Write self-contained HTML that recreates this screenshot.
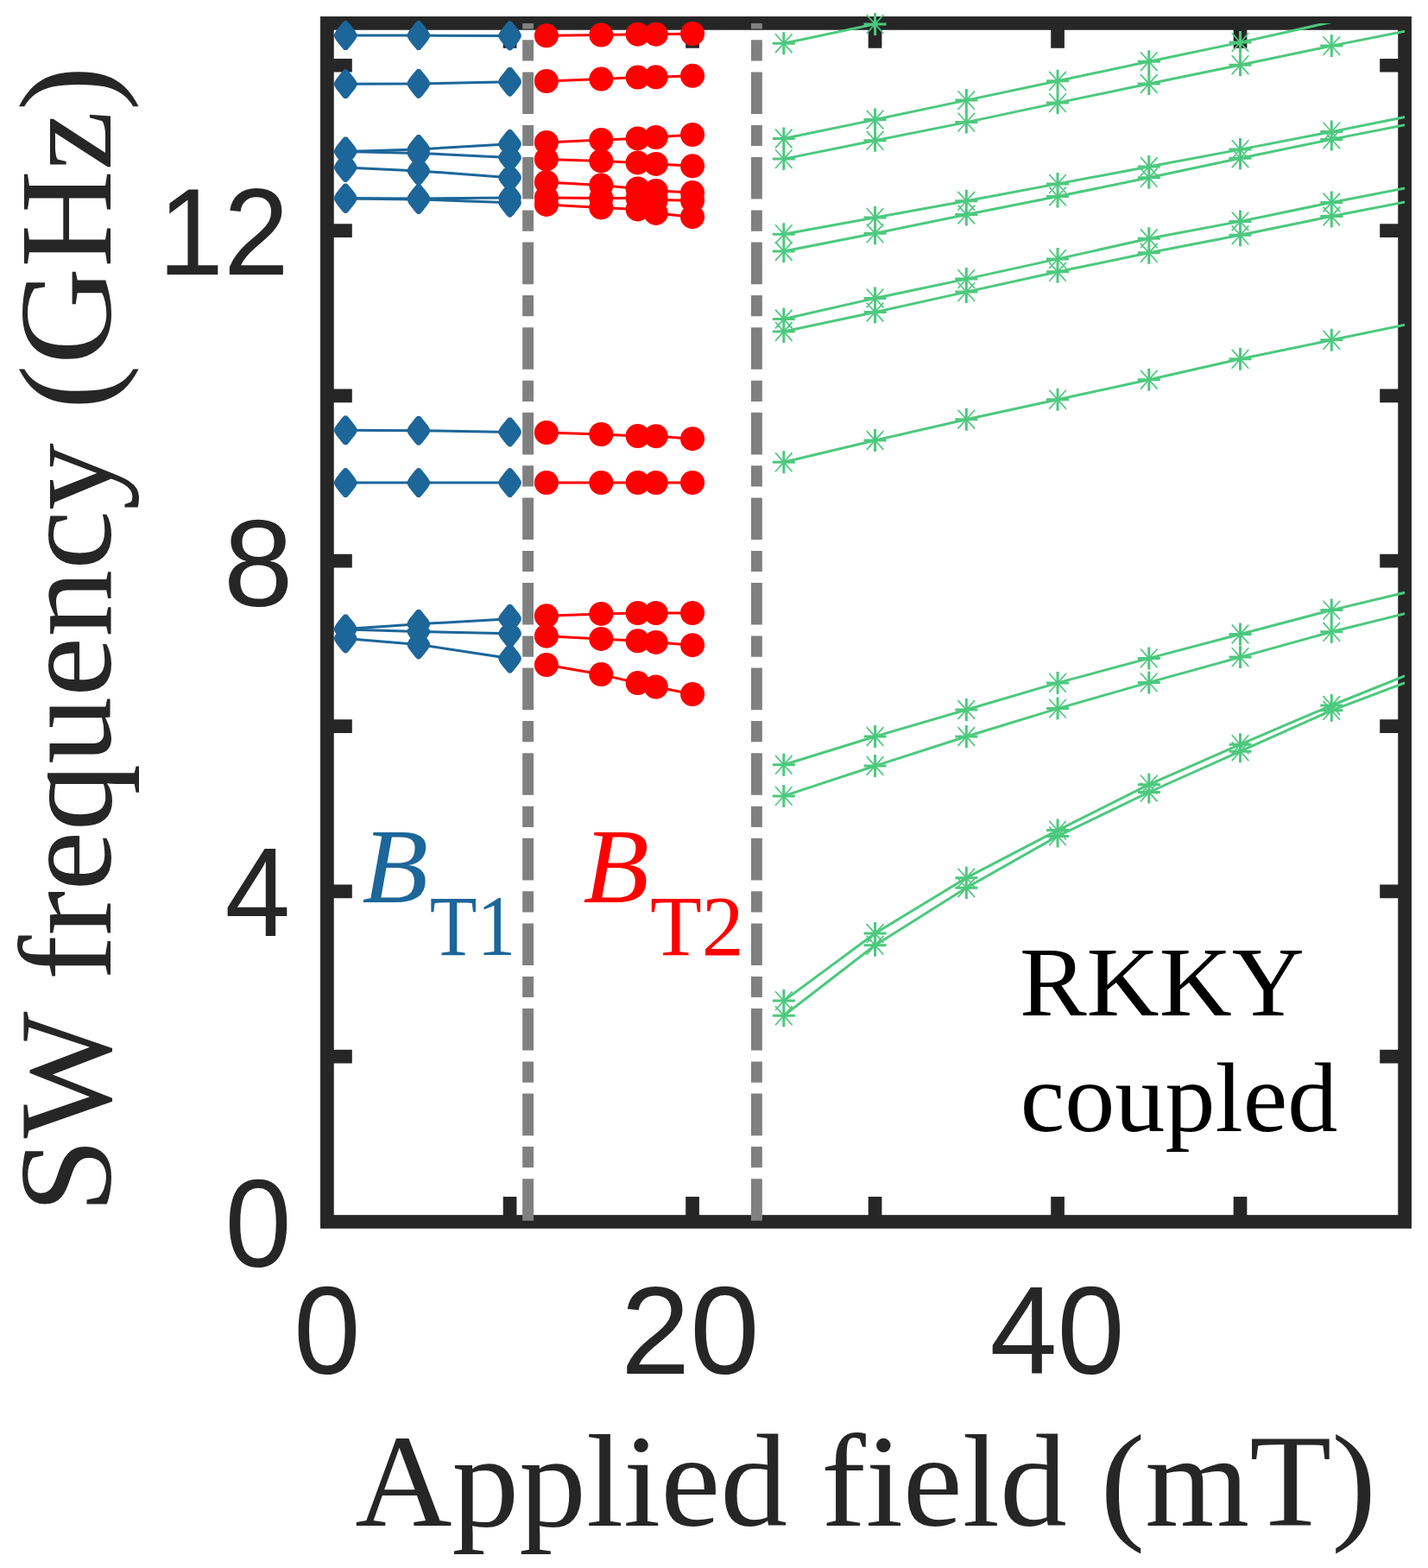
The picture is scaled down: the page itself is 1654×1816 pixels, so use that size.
<!DOCTYPE html>
<html><head><meta charset="utf-8"><title>SW frequency vs applied field</title>
<style>html,body{margin:0;padding:0;background:#fff;}svg{display:block;}</style>
</head><body>
<svg width="1654" height="1816" viewBox="0 0 1654 1816">
<defs><clipPath id="c"><rect x="379.08" y="26.9" width="1248.02" height="1388.1"/></clipPath></defs>
<rect width="1654" height="1816" fill="#fff"/>
<rect x="378.9" y="26.9" width="1248.2" height="1388.1" fill="none" stroke="#262626" stroke-width="15.7"/>
<path d="M378.9 1223.68H407.8M1627.1 1223.68H1598.2M378.9 1032.36H407.8M1627.1 1032.36H1598.2M378.9 841.04H407.8M1627.1 841.04H1598.2M378.9 649.72H407.8M1627.1 649.72H1598.2M378.9 458.4H407.8M1627.1 458.4H1598.2M378.9 267.08H407.8M1627.1 267.08H1598.2M378.9 75.76H407.8M1627.1 75.76H1598.2M590.57 1415V1386.1M590.57 26.9V55.8M802.06 1415V1386.1M802.06 26.9V55.8M1013.55 1415V1386.1M1013.55 26.9V55.8M1225.04 1415V1386.1M1225.04 26.9V55.8M1436.53 1415V1386.1M1436.53 26.9V55.8" stroke="#262626" stroke-width="15.7" fill="none"/>
<line x1="611.6" y1="1413.8" x2="611.6" y2="26.9" stroke="#808080" stroke-width="12.9" stroke-dasharray="48.6 12.9 24.2 12.9"/>
<line x1="876.4" y1="1413.8" x2="876.4" y2="26.9" stroke="#808080" stroke-width="12.9" stroke-dasharray="48.6 12.9 24.2 12.9"/>
<g clip-path="url(#c)" fill="none" stroke-linejoin="round">
<polyline points="400.23,41.1 484.82,41.1 590.57,41.4" stroke="#1c6699" stroke-width="3"/>
<polyline points="400.23,97.3 484.82,96.9 590.57,94.7" stroke="#1c6699" stroke-width="3"/>
<polyline points="400.23,175.4 484.82,172.9 590.57,166.8" stroke="#1c6699" stroke-width="3"/>
<polyline points="400.23,175.4 484.82,177.4 590.57,182.5" stroke="#1c6699" stroke-width="3"/>
<polyline points="400.23,193.9 484.82,197.9 590.57,205.7" stroke="#1c6699" stroke-width="3"/>
<polyline points="400.23,229.4 484.82,229.9 590.57,228.9" stroke="#1c6699" stroke-width="3"/>
<polyline points="400.23,229.9 484.82,230.9 590.57,234.7" stroke="#1c6699" stroke-width="3"/>
<polyline points="400.23,498.3 484.82,498.7 590.57,500.4" stroke="#1c6699" stroke-width="3"/>
<polyline points="400.23,559.1 484.82,559.1 590.57,559.1" stroke="#1c6699" stroke-width="3"/>
<polyline points="400.23,728.4 484.82,722.7 590.57,716.7" stroke="#1c6699" stroke-width="3"/>
<polyline points="400.23,728.9 484.82,731.4 590.57,733.7" stroke="#1c6699" stroke-width="3"/>
<polyline points="400.23,739.4 484.82,746.4 590.57,762.6" stroke="#1c6699" stroke-width="3"/>
<polyline points="632.87,41.3 696.32,40.6 738.61,39.7 759.76,39.7 802.06,39" stroke="#ff0000" stroke-width="3"/>
<polyline points="632.87,94 696.32,91.6 738.61,89.6 759.76,89.3 802.06,87.8" stroke="#ff0000" stroke-width="3"/>
<polyline points="632.87,164.9 696.32,161.9 738.61,160.4 759.76,159 802.06,156" stroke="#ff0000" stroke-width="3"/>
<polyline points="632.87,184.4 696.32,186.4 738.61,188.4 759.76,189.9 802.06,192.3" stroke="#ff0000" stroke-width="3"/>
<polyline points="632.87,210.9 696.32,214.4 738.61,218.4 759.76,220.9 802.06,223.1" stroke="#ff0000" stroke-width="3"/>
<polyline points="632.87,228.9 696.32,229.4 738.61,229.4 759.76,231.4 802.06,232.2" stroke="#ff0000" stroke-width="3"/>
<polyline points="632.87,236.9 696.32,240.4 738.61,242.4 759.76,246.9 802.06,251.2" stroke="#ff0000" stroke-width="3"/>
<polyline points="632.87,501 696.32,503 738.61,505 759.76,505.2 802.06,508.2" stroke="#ff0000" stroke-width="3"/>
<polyline points="632.87,559 696.32,559 738.61,559 759.76,559 802.06,559" stroke="#ff0000" stroke-width="3"/>
<polyline points="632.87,713.3 696.32,710.9 738.61,710 759.76,710 802.06,710" stroke="#ff0000" stroke-width="3"/>
<polyline points="632.87,736.7 696.32,739.9 738.61,742.3 759.76,743.9 802.06,747.2" stroke="#ff0000" stroke-width="3"/>
<polyline points="632.87,770.1 696.32,781.1 738.61,791.1 759.76,795.5 802.06,804" stroke="#ff0000" stroke-width="3"/>
<polyline points="907.81,1159.1 1013.55,1081 1119.3,1016.7 1225.04,961.6 1330.79,908.7 1436.53,862.2 1542.28,817 1648.02,774.5" stroke="#4cc97e" stroke-width="3"/>
<polyline points="907.81,1176.3 1013.55,1094.8 1119.3,1028.2 1225.04,968.4 1330.79,917.5 1436.53,870.2 1542.28,822.8 1648.02,783" stroke="#4cc97e" stroke-width="3"/>
<polyline points="907.81,885.8 1013.55,853 1119.3,822 1225.04,790.9 1330.79,762.4 1436.53,734.5 1542.28,706.6 1648.02,681.4" stroke="#4cc97e" stroke-width="3"/>
<polyline points="907.81,921.9 1013.55,887 1119.3,853 1225.04,820.6 1330.79,790.4 1436.53,761.1 1542.28,731.8 1648.02,705.6" stroke="#4cc97e" stroke-width="3"/>
<polyline points="907.81,535.3 1013.55,510 1119.3,485.7 1225.04,462.7 1330.79,439.7 1436.53,415.8 1542.28,393.8 1648.02,371.9" stroke="#4cc97e" stroke-width="3"/>
<polyline points="907.81,369.5 1013.55,345.4 1119.3,323.1 1225.04,299.9 1330.79,276.3 1436.53,256.4 1542.28,234.5 1648.02,214" stroke="#4cc97e" stroke-width="3"/>
<polyline points="907.81,384 1013.55,361.5 1119.3,338.1 1225.04,314.8 1330.79,292.8 1436.53,272.3 1542.28,250.5 1648.02,229.8" stroke="#4cc97e" stroke-width="3"/>
<polyline points="907.81,271.2 1013.55,251.9 1119.3,232.8 1225.04,212.9 1330.79,193 1436.53,173.1 1542.28,152.6 1648.02,131.4" stroke="#4cc97e" stroke-width="3"/>
<polyline points="907.81,291 1013.55,270.3 1119.3,248.5 1225.04,227.5 1330.79,205.8 1436.53,183.2 1542.28,161.4 1648.02,140.7" stroke="#4cc97e" stroke-width="3"/>
<polyline points="907.81,160.5 1013.55,138.6 1119.3,116.1 1225.04,93.8 1330.79,71.2 1436.53,49.1 1542.28,25.5 1648.02,3" stroke="#4cc97e" stroke-width="3"/>
<polyline points="907.81,184.1 1013.55,162.8 1119.3,141.6 1225.04,119.1 1330.79,97 1436.53,75.2 1542.28,53.1 1648.02,32" stroke="#4cc97e" stroke-width="3"/>
<polyline points="907.81,50.2 1013.55,27.9 1119.3,5 1225.04,-18 1330.79,-40 1436.53,-62 1542.28,-84 1648.02,-106" stroke="#4cc97e" stroke-width="3"/>
</g>
<path d="M400.23 24.1L401.83 24.3L403.03 25.5L404.53 27.1L407.83 31.3L411.13 35.5L413.13 38.9L413.53 41.1L413.13 43.3L411.13 46.7L407.83 50.9L404.53 55.1L403.03 56.7L401.83 57.9L400.23 58.1L398.63 57.9L397.43 56.7L395.93 55.1L392.63 50.9L389.33 46.7L387.33 43.3L386.93 41.1L387.33 38.9L389.33 35.5L392.63 31.3L395.93 27.1L397.43 25.5L398.63 24.3ZM484.82 24.1L486.43 24.3L487.62 25.5L489.12 27.1L492.43 31.3L495.72 35.5L497.72 38.9L498.12 41.1L497.72 43.3L495.72 46.7L492.43 50.9L489.12 55.1L487.62 56.7L486.43 57.9L484.82 58.1L483.22 57.9L482.02 56.7L480.52 55.1L477.22 50.9L473.93 46.7L471.93 43.3L471.52 41.1L471.93 38.9L473.93 35.5L477.22 31.3L480.52 27.1L482.02 25.5L483.22 24.3ZM590.57 24.4L592.17 24.6L593.37 25.8L594.87 27.4L598.17 31.6L601.47 35.8L603.47 39.2L603.87 41.4L603.47 43.6L601.47 47L598.17 51.2L594.87 55.4L593.37 57L592.17 58.2L590.57 58.4L588.97 58.2L587.77 57L586.27 55.4L582.97 51.2L579.67 47L577.67 43.6L577.27 41.4L577.67 39.2L579.67 35.8L582.97 31.6L586.27 27.4L587.77 25.8L588.97 24.6ZM400.23 80.3L401.83 80.5L403.03 81.7L404.53 83.3L407.83 87.5L411.13 91.7L413.13 95.1L413.53 97.3L413.13 99.5L411.13 102.9L407.83 107.1L404.53 111.3L403.03 112.9L401.83 114.1L400.23 114.3L398.63 114.1L397.43 112.9L395.93 111.3L392.63 107.1L389.33 102.9L387.33 99.5L386.93 97.3L387.33 95.1L389.33 91.7L392.63 87.5L395.93 83.3L397.43 81.7L398.63 80.5ZM484.82 79.9L486.43 80.1L487.62 81.3L489.12 82.9L492.43 87.1L495.72 91.3L497.72 94.7L498.12 96.9L497.72 99.1L495.72 102.5L492.43 106.7L489.12 110.9L487.62 112.5L486.43 113.7L484.82 113.9L483.22 113.7L482.02 112.5L480.52 110.9L477.22 106.7L473.93 102.5L471.93 99.1L471.52 96.9L471.93 94.7L473.93 91.3L477.22 87.1L480.52 82.9L482.02 81.3L483.22 80.1ZM590.57 77.7L592.17 77.9L593.37 79.1L594.87 80.7L598.17 84.9L601.47 89.1L603.47 92.5L603.87 94.7L603.47 96.9L601.47 100.3L598.17 104.5L594.87 108.7L593.37 110.3L592.17 111.5L590.57 111.7L588.97 111.5L587.77 110.3L586.27 108.7L582.97 104.5L579.67 100.3L577.67 96.9L577.27 94.7L577.67 92.5L579.67 89.1L582.97 84.9L586.27 80.7L587.77 79.1L588.97 77.9ZM400.23 158.4L401.83 158.6L403.03 159.8L404.53 161.4L407.83 165.6L411.13 169.8L413.13 173.2L413.53 175.4L413.13 177.6L411.13 181L407.83 185.2L404.53 189.4L403.03 191L401.83 192.2L400.23 192.4L398.63 192.2L397.43 191L395.93 189.4L392.63 185.2L389.33 181L387.33 177.6L386.93 175.4L387.33 173.2L389.33 169.8L392.63 165.6L395.93 161.4L397.43 159.8L398.63 158.6ZM484.82 155.9L486.43 156.1L487.62 157.3L489.12 158.9L492.43 163.1L495.72 167.3L497.72 170.7L498.12 172.9L497.72 175.1L495.72 178.5L492.43 182.7L489.12 186.9L487.62 188.5L486.43 189.7L484.82 189.9L483.22 189.7L482.02 188.5L480.52 186.9L477.22 182.7L473.93 178.5L471.93 175.1L471.52 172.9L471.93 170.7L473.93 167.3L477.22 163.1L480.52 158.9L482.02 157.3L483.22 156.1ZM590.57 149.8L592.17 150L593.37 151.2L594.87 152.8L598.17 157L601.47 161.2L603.47 164.6L603.87 166.8L603.47 169L601.47 172.4L598.17 176.6L594.87 180.8L593.37 182.4L592.17 183.6L590.57 183.8L588.97 183.6L587.77 182.4L586.27 180.8L582.97 176.6L579.67 172.4L577.67 169L577.27 166.8L577.67 164.6L579.67 161.2L582.97 157L586.27 152.8L587.77 151.2L588.97 150ZM400.23 158.4L401.83 158.6L403.03 159.8L404.53 161.4L407.83 165.6L411.13 169.8L413.13 173.2L413.53 175.4L413.13 177.6L411.13 181L407.83 185.2L404.53 189.4L403.03 191L401.83 192.2L400.23 192.4L398.63 192.2L397.43 191L395.93 189.4L392.63 185.2L389.33 181L387.33 177.6L386.93 175.4L387.33 173.2L389.33 169.8L392.63 165.6L395.93 161.4L397.43 159.8L398.63 158.6ZM484.82 160.4L486.43 160.6L487.62 161.8L489.12 163.4L492.43 167.6L495.72 171.8L497.72 175.2L498.12 177.4L497.72 179.6L495.72 183L492.43 187.2L489.12 191.4L487.62 193L486.43 194.2L484.82 194.4L483.22 194.2L482.02 193L480.52 191.4L477.22 187.2L473.93 183L471.93 179.6L471.52 177.4L471.93 175.2L473.93 171.8L477.22 167.6L480.52 163.4L482.02 161.8L483.22 160.6ZM590.57 165.5L592.17 165.7L593.37 166.9L594.87 168.5L598.17 172.7L601.47 176.9L603.47 180.3L603.87 182.5L603.47 184.7L601.47 188.1L598.17 192.3L594.87 196.5L593.37 198.1L592.17 199.3L590.57 199.5L588.97 199.3L587.77 198.1L586.27 196.5L582.97 192.3L579.67 188.1L577.67 184.7L577.27 182.5L577.67 180.3L579.67 176.9L582.97 172.7L586.27 168.5L587.77 166.9L588.97 165.7ZM400.23 176.9L401.83 177.1L403.03 178.3L404.53 179.9L407.83 184.1L411.13 188.3L413.13 191.7L413.53 193.9L413.13 196.1L411.13 199.5L407.83 203.7L404.53 207.9L403.03 209.5L401.83 210.7L400.23 210.9L398.63 210.7L397.43 209.5L395.93 207.9L392.63 203.7L389.33 199.5L387.33 196.1L386.93 193.9L387.33 191.7L389.33 188.3L392.63 184.1L395.93 179.9L397.43 178.3L398.63 177.1ZM484.82 180.9L486.43 181.1L487.62 182.3L489.12 183.9L492.43 188.1L495.72 192.3L497.72 195.7L498.12 197.9L497.72 200.1L495.72 203.5L492.43 207.7L489.12 211.9L487.62 213.5L486.43 214.7L484.82 214.9L483.22 214.7L482.02 213.5L480.52 211.9L477.22 207.7L473.93 203.5L471.93 200.1L471.52 197.9L471.93 195.7L473.93 192.3L477.22 188.1L480.52 183.9L482.02 182.3L483.22 181.1ZM590.57 188.7L592.17 188.9L593.37 190.1L594.87 191.7L598.17 195.9L601.47 200.1L603.47 203.5L603.87 205.7L603.47 207.9L601.47 211.3L598.17 215.5L594.87 219.7L593.37 221.3L592.17 222.5L590.57 222.7L588.97 222.5L587.77 221.3L586.27 219.7L582.97 215.5L579.67 211.3L577.67 207.9L577.27 205.7L577.67 203.5L579.67 200.1L582.97 195.9L586.27 191.7L587.77 190.1L588.97 188.9ZM400.23 212.4L401.83 212.6L403.03 213.8L404.53 215.4L407.83 219.6L411.13 223.8L413.13 227.2L413.53 229.4L413.13 231.6L411.13 235L407.83 239.2L404.53 243.4L403.03 245L401.83 246.2L400.23 246.4L398.63 246.2L397.43 245L395.93 243.4L392.63 239.2L389.33 235L387.33 231.6L386.93 229.4L387.33 227.2L389.33 223.8L392.63 219.6L395.93 215.4L397.43 213.8L398.63 212.6ZM484.82 212.9L486.43 213.1L487.62 214.3L489.12 215.9L492.43 220.1L495.72 224.3L497.72 227.7L498.12 229.9L497.72 232.1L495.72 235.5L492.43 239.7L489.12 243.9L487.62 245.5L486.43 246.7L484.82 246.9L483.22 246.7L482.02 245.5L480.52 243.9L477.22 239.7L473.93 235.5L471.93 232.1L471.52 229.9L471.93 227.7L473.93 224.3L477.22 220.1L480.52 215.9L482.02 214.3L483.22 213.1ZM590.57 211.9L592.17 212.1L593.37 213.3L594.87 214.9L598.17 219.1L601.47 223.3L603.47 226.7L603.87 228.9L603.47 231.1L601.47 234.5L598.17 238.7L594.87 242.9L593.37 244.5L592.17 245.7L590.57 245.9L588.97 245.7L587.77 244.5L586.27 242.9L582.97 238.7L579.67 234.5L577.67 231.1L577.27 228.9L577.67 226.7L579.67 223.3L582.97 219.1L586.27 214.9L587.77 213.3L588.97 212.1ZM400.23 212.9L401.83 213.1L403.03 214.3L404.53 215.9L407.83 220.1L411.13 224.3L413.13 227.7L413.53 229.9L413.13 232.1L411.13 235.5L407.83 239.7L404.53 243.9L403.03 245.5L401.83 246.7L400.23 246.9L398.63 246.7L397.43 245.5L395.93 243.9L392.63 239.7L389.33 235.5L387.33 232.1L386.93 229.9L387.33 227.7L389.33 224.3L392.63 220.1L395.93 215.9L397.43 214.3L398.63 213.1ZM484.82 213.9L486.43 214.1L487.62 215.3L489.12 216.9L492.43 221.1L495.72 225.3L497.72 228.7L498.12 230.9L497.72 233.1L495.72 236.5L492.43 240.7L489.12 244.9L487.62 246.5L486.43 247.7L484.82 247.9L483.22 247.7L482.02 246.5L480.52 244.9L477.22 240.7L473.93 236.5L471.93 233.1L471.52 230.9L471.93 228.7L473.93 225.3L477.22 221.1L480.52 216.9L482.02 215.3L483.22 214.1ZM590.57 217.7L592.17 217.9L593.37 219.1L594.87 220.7L598.17 224.9L601.47 229.1L603.47 232.5L603.87 234.7L603.47 236.9L601.47 240.3L598.17 244.5L594.87 248.7L593.37 250.3L592.17 251.5L590.57 251.7L588.97 251.5L587.77 250.3L586.27 248.7L582.97 244.5L579.67 240.3L577.67 236.9L577.27 234.7L577.67 232.5L579.67 229.1L582.97 224.9L586.27 220.7L587.77 219.1L588.97 217.9ZM400.23 481.3L401.83 481.5L403.03 482.7L404.53 484.3L407.83 488.5L411.13 492.7L413.13 496.1L413.53 498.3L413.13 500.5L411.13 503.9L407.83 508.1L404.53 512.3L403.03 513.9L401.83 515.1L400.23 515.3L398.63 515.1L397.43 513.9L395.93 512.3L392.63 508.1L389.33 503.9L387.33 500.5L386.93 498.3L387.33 496.1L389.33 492.7L392.63 488.5L395.93 484.3L397.43 482.7L398.63 481.5ZM484.82 481.7L486.43 481.9L487.62 483.1L489.12 484.7L492.43 488.9L495.72 493.1L497.72 496.5L498.12 498.7L497.72 500.9L495.72 504.3L492.43 508.5L489.12 512.7L487.62 514.3L486.43 515.5L484.82 515.7L483.22 515.5L482.02 514.3L480.52 512.7L477.22 508.5L473.93 504.3L471.93 500.9L471.52 498.7L471.93 496.5L473.93 493.1L477.22 488.9L480.52 484.7L482.02 483.1L483.22 481.9ZM590.57 483.4L592.17 483.6L593.37 484.8L594.87 486.4L598.17 490.6L601.47 494.8L603.47 498.2L603.87 500.4L603.47 502.6L601.47 506L598.17 510.2L594.87 514.4L593.37 516L592.17 517.2L590.57 517.4L588.97 517.2L587.77 516L586.27 514.4L582.97 510.2L579.67 506L577.67 502.6L577.27 500.4L577.67 498.2L579.67 494.8L582.97 490.6L586.27 486.4L587.77 484.8L588.97 483.6ZM400.23 542.1L401.83 542.3L403.03 543.5L404.53 545.1L407.83 549.3L411.13 553.5L413.13 556.9L413.53 559.1L413.13 561.3L411.13 564.7L407.83 568.9L404.53 573.1L403.03 574.7L401.83 575.9L400.23 576.1L398.63 575.9L397.43 574.7L395.93 573.1L392.63 568.9L389.33 564.7L387.33 561.3L386.93 559.1L387.33 556.9L389.33 553.5L392.63 549.3L395.93 545.1L397.43 543.5L398.63 542.3ZM484.82 542.1L486.43 542.3L487.62 543.5L489.12 545.1L492.43 549.3L495.72 553.5L497.72 556.9L498.12 559.1L497.72 561.3L495.72 564.7L492.43 568.9L489.12 573.1L487.62 574.7L486.43 575.9L484.82 576.1L483.22 575.9L482.02 574.7L480.52 573.1L477.22 568.9L473.93 564.7L471.93 561.3L471.52 559.1L471.93 556.9L473.93 553.5L477.22 549.3L480.52 545.1L482.02 543.5L483.22 542.3ZM590.57 542.1L592.17 542.3L593.37 543.5L594.87 545.1L598.17 549.3L601.47 553.5L603.47 556.9L603.87 559.1L603.47 561.3L601.47 564.7L598.17 568.9L594.87 573.1L593.37 574.7L592.17 575.9L590.57 576.1L588.97 575.9L587.77 574.7L586.27 573.1L582.97 568.9L579.67 564.7L577.67 561.3L577.27 559.1L577.67 556.9L579.67 553.5L582.97 549.3L586.27 545.1L587.77 543.5L588.97 542.3ZM400.23 711.4L401.83 711.6L403.03 712.8L404.53 714.4L407.83 718.6L411.13 722.8L413.13 726.2L413.53 728.4L413.13 730.6L411.13 734L407.83 738.2L404.53 742.4L403.03 744L401.83 745.2L400.23 745.4L398.63 745.2L397.43 744L395.93 742.4L392.63 738.2L389.33 734L387.33 730.6L386.93 728.4L387.33 726.2L389.33 722.8L392.63 718.6L395.93 714.4L397.43 712.8L398.63 711.6ZM484.82 705.7L486.43 705.9L487.62 707.1L489.12 708.7L492.43 712.9L495.72 717.1L497.72 720.5L498.12 722.7L497.72 724.9L495.72 728.3L492.43 732.5L489.12 736.7L487.62 738.3L486.43 739.5L484.82 739.7L483.22 739.5L482.02 738.3L480.52 736.7L477.22 732.5L473.93 728.3L471.93 724.9L471.52 722.7L471.93 720.5L473.93 717.1L477.22 712.9L480.52 708.7L482.02 707.1L483.22 705.9ZM590.57 699.7L592.17 699.9L593.37 701.1L594.87 702.7L598.17 706.9L601.47 711.1L603.47 714.5L603.87 716.7L603.47 718.9L601.47 722.3L598.17 726.5L594.87 730.7L593.37 732.3L592.17 733.5L590.57 733.7L588.97 733.5L587.77 732.3L586.27 730.7L582.97 726.5L579.67 722.3L577.67 718.9L577.27 716.7L577.67 714.5L579.67 711.1L582.97 706.9L586.27 702.7L587.77 701.1L588.97 699.9ZM400.23 711.9L401.83 712.1L403.03 713.3L404.53 714.9L407.83 719.1L411.13 723.3L413.13 726.7L413.53 728.9L413.13 731.1L411.13 734.5L407.83 738.7L404.53 742.9L403.03 744.5L401.83 745.7L400.23 745.9L398.63 745.7L397.43 744.5L395.93 742.9L392.63 738.7L389.33 734.5L387.33 731.1L386.93 728.9L387.33 726.7L389.33 723.3L392.63 719.1L395.93 714.9L397.43 713.3L398.63 712.1ZM484.82 714.4L486.43 714.6L487.62 715.8L489.12 717.4L492.43 721.6L495.72 725.8L497.72 729.2L498.12 731.4L497.72 733.6L495.72 737L492.43 741.2L489.12 745.4L487.62 747L486.43 748.2L484.82 748.4L483.22 748.2L482.02 747L480.52 745.4L477.22 741.2L473.93 737L471.93 733.6L471.52 731.4L471.93 729.2L473.93 725.8L477.22 721.6L480.52 717.4L482.02 715.8L483.22 714.6ZM590.57 716.7L592.17 716.9L593.37 718.1L594.87 719.7L598.17 723.9L601.47 728.1L603.47 731.5L603.87 733.7L603.47 735.9L601.47 739.3L598.17 743.5L594.87 747.7L593.37 749.3L592.17 750.5L590.57 750.7L588.97 750.5L587.77 749.3L586.27 747.7L582.97 743.5L579.67 739.3L577.67 735.9L577.27 733.7L577.67 731.5L579.67 728.1L582.97 723.9L586.27 719.7L587.77 718.1L588.97 716.9ZM400.23 722.4L401.83 722.6L403.03 723.8L404.53 725.4L407.83 729.6L411.13 733.8L413.13 737.2L413.53 739.4L413.13 741.6L411.13 745L407.83 749.2L404.53 753.4L403.03 755L401.83 756.2L400.23 756.4L398.63 756.2L397.43 755L395.93 753.4L392.63 749.2L389.33 745L387.33 741.6L386.93 739.4L387.33 737.2L389.33 733.8L392.63 729.6L395.93 725.4L397.43 723.8L398.63 722.6ZM484.82 729.4L486.43 729.6L487.62 730.8L489.12 732.4L492.43 736.6L495.72 740.8L497.72 744.2L498.12 746.4L497.72 748.6L495.72 752L492.43 756.2L489.12 760.4L487.62 762L486.43 763.2L484.82 763.4L483.22 763.2L482.02 762L480.52 760.4L477.22 756.2L473.93 752L471.93 748.6L471.52 746.4L471.93 744.2L473.93 740.8L477.22 736.6L480.52 732.4L482.02 730.8L483.22 729.6ZM590.57 745.6L592.17 745.8L593.37 747L594.87 748.6L598.17 752.8L601.47 757L603.47 760.4L603.87 762.6L603.47 764.8L601.47 768.2L598.17 772.4L594.87 776.6L593.37 778.2L592.17 779.4L590.57 779.6L588.97 779.4L587.77 778.2L586.27 776.6L582.97 772.4L579.67 768.2L577.67 764.8L577.27 762.6L577.67 760.4L579.67 757L582.97 752.8L586.27 748.6L587.77 747L588.97 745.8Z" fill="#1c6699"/>
<g fill="#ff0000"><circle cx="632.87" cy="41.3" r="14"/><circle cx="696.32" cy="40.6" r="14"/><circle cx="738.61" cy="39.7" r="14"/><circle cx="759.76" cy="39.7" r="14"/><circle cx="802.06" cy="39" r="14"/><circle cx="632.87" cy="94" r="14"/><circle cx="696.32" cy="91.6" r="14"/><circle cx="738.61" cy="89.6" r="14"/><circle cx="759.76" cy="89.3" r="14"/><circle cx="802.06" cy="87.8" r="14"/><circle cx="632.87" cy="164.9" r="14"/><circle cx="696.32" cy="161.9" r="14"/><circle cx="738.61" cy="160.4" r="14"/><circle cx="759.76" cy="159" r="14"/><circle cx="802.06" cy="156" r="14"/><circle cx="632.87" cy="184.4" r="14"/><circle cx="696.32" cy="186.4" r="14"/><circle cx="738.61" cy="188.4" r="14"/><circle cx="759.76" cy="189.9" r="14"/><circle cx="802.06" cy="192.3" r="14"/><circle cx="632.87" cy="210.9" r="14"/><circle cx="696.32" cy="214.4" r="14"/><circle cx="738.61" cy="218.4" r="14"/><circle cx="759.76" cy="220.9" r="14"/><circle cx="802.06" cy="223.1" r="14"/><circle cx="632.87" cy="228.9" r="14"/><circle cx="696.32" cy="229.4" r="14"/><circle cx="738.61" cy="229.4" r="14"/><circle cx="759.76" cy="231.4" r="14"/><circle cx="802.06" cy="232.2" r="14"/><circle cx="632.87" cy="236.9" r="14"/><circle cx="696.32" cy="240.4" r="14"/><circle cx="738.61" cy="242.4" r="14"/><circle cx="759.76" cy="246.9" r="14"/><circle cx="802.06" cy="251.2" r="14"/><circle cx="632.87" cy="501" r="14"/><circle cx="696.32" cy="503" r="14"/><circle cx="738.61" cy="505" r="14"/><circle cx="759.76" cy="505.2" r="14"/><circle cx="802.06" cy="508.2" r="14"/><circle cx="632.87" cy="559" r="14"/><circle cx="696.32" cy="559" r="14"/><circle cx="738.61" cy="559" r="14"/><circle cx="759.76" cy="559" r="14"/><circle cx="802.06" cy="559" r="14"/><circle cx="632.87" cy="713.3" r="14"/><circle cx="696.32" cy="710.9" r="14"/><circle cx="738.61" cy="710" r="14"/><circle cx="759.76" cy="710" r="14"/><circle cx="802.06" cy="710" r="14"/><circle cx="632.87" cy="736.7" r="14"/><circle cx="696.32" cy="739.9" r="14"/><circle cx="738.61" cy="742.3" r="14"/><circle cx="759.76" cy="743.9" r="14"/><circle cx="802.06" cy="747.2" r="14"/><circle cx="632.87" cy="770.1" r="14"/><circle cx="696.32" cy="781.1" r="14"/><circle cx="738.61" cy="791.1" r="14"/><circle cx="759.76" cy="795.5" r="14"/><circle cx="802.06" cy="804" r="14"/></g>
<path d="M894.81 1159.1H920.81M907.81 1146.1V1172.1M1000.55 1081H1026.55M1013.55 1068V1094M1106.3 1016.7H1132.3M1119.3 1003.7V1029.7M1212.04 961.6H1238.04M1225.04 948.6V974.6M1317.79 908.7H1343.79M1330.79 895.7V921.7M1423.53 862.2H1449.53M1436.53 849.2V875.2M1529.28 817H1555.28M1542.28 804V830M894.81 1176.3H920.81M907.81 1163.3V1189.3M1000.55 1094.8H1026.55M1013.55 1081.8V1107.8M1106.3 1028.2H1132.3M1119.3 1015.2V1041.2M1212.04 968.4H1238.04M1225.04 955.4V981.4M1317.79 917.5H1343.79M1330.79 904.5V930.5M1423.53 870.2H1449.53M1436.53 857.2V883.2M1529.28 822.8H1555.28M1542.28 809.8V835.8M894.81 885.8H920.81M907.81 872.8V898.8M1000.55 853H1026.55M1013.55 840V866M1106.3 822H1132.3M1119.3 809V835M1212.04 790.9H1238.04M1225.04 777.9V803.9M1317.79 762.4H1343.79M1330.79 749.4V775.4M1423.53 734.5H1449.53M1436.53 721.5V747.5M1529.28 706.6H1555.28M1542.28 693.6V719.6M894.81 921.9H920.81M907.81 908.9V934.9M1000.55 887H1026.55M1013.55 874V900M1106.3 853H1132.3M1119.3 840V866M1212.04 820.6H1238.04M1225.04 807.6V833.6M1317.79 790.4H1343.79M1330.79 777.4V803.4M1423.53 761.1H1449.53M1436.53 748.1V774.1M1529.28 731.8H1555.28M1542.28 718.8V744.8M894.81 535.3H920.81M907.81 522.3V548.3M1000.55 510H1026.55M1013.55 497V523M1106.3 485.7H1132.3M1119.3 472.7V498.7M1212.04 462.7H1238.04M1225.04 449.7V475.7M1317.79 439.7H1343.79M1330.79 426.7V452.7M1423.53 415.8H1449.53M1436.53 402.8V428.8M1529.28 393.8H1555.28M1542.28 380.8V406.8M894.81 369.5H920.81M907.81 356.5V382.5M1000.55 345.4H1026.55M1013.55 332.4V358.4M1106.3 323.1H1132.3M1119.3 310.1V336.1M1212.04 299.9H1238.04M1225.04 286.9V312.9M1317.79 276.3H1343.79M1330.79 263.3V289.3M1423.53 256.4H1449.53M1436.53 243.4V269.4M1529.28 234.5H1555.28M1542.28 221.5V247.5M894.81 384H920.81M907.81 371V397M1000.55 361.5H1026.55M1013.55 348.5V374.5M1106.3 338.1H1132.3M1119.3 325.1V351.1M1212.04 314.8H1238.04M1225.04 301.8V327.8M1317.79 292.8H1343.79M1330.79 279.8V305.8M1423.53 272.3H1449.53M1436.53 259.3V285.3M1529.28 250.5H1555.28M1542.28 237.5V263.5M894.81 271.2H920.81M907.81 258.2V284.2M1000.55 251.9H1026.55M1013.55 238.9V264.9M1106.3 232.8H1132.3M1119.3 219.8V245.8M1212.04 212.9H1238.04M1225.04 199.9V225.9M1317.79 193H1343.79M1330.79 180V206M1423.53 173.1H1449.53M1436.53 160.1V186.1M1529.28 152.6H1555.28M1542.28 139.6V165.6M894.81 291H920.81M907.81 278V304M1000.55 270.3H1026.55M1013.55 257.3V283.3M1106.3 248.5H1132.3M1119.3 235.5V261.5M1212.04 227.5H1238.04M1225.04 214.5V240.5M1317.79 205.8H1343.79M1330.79 192.8V218.8M1423.53 183.2H1449.53M1436.53 170.2V196.2M1529.28 161.4H1555.28M1542.28 148.4V174.4M894.81 160.5H920.81M907.81 147.5V173.5M1000.55 138.6H1026.55M1013.55 125.6V151.6M1106.3 116.1H1132.3M1119.3 103.1V129.1M1212.04 93.8H1238.04M1225.04 80.8V106.8M1317.79 71.2H1343.79M1330.79 58.2V84.2M1423.53 49.1H1449.53M1436.53 36.1V62.1M894.81 184.1H920.81M907.81 171.1V197.1M1000.55 162.8H1026.55M1013.55 149.8V175.8M1106.3 141.6H1132.3M1119.3 128.6V154.6M1212.04 119.1H1238.04M1225.04 106.1V132.1M1317.79 97H1343.79M1330.79 84V110M1423.53 75.2H1449.53M1436.53 62.2V88.2M1529.28 53.1H1555.28M1542.28 40.1V66.1M894.81 50.2H920.81M907.81 37.2V63.2M1000.55 27.9H1026.55M1013.55 14.9V40.9" stroke="#4cc97e" stroke-width="3" fill="none"/>
<path d="M898.01 1148.2L917.61 1170M898.01 1170L917.61 1148.2M1003.75 1070.1L1023.35 1091.9M1003.75 1091.9L1023.35 1070.1M1109.5 1005.8L1129.1 1027.6M1109.5 1027.6L1129.1 1005.8M1215.24 950.7L1234.84 972.5M1215.24 972.5L1234.84 950.7M1320.99 897.8L1340.59 919.6M1320.99 919.6L1340.59 897.8M1426.73 851.3L1446.33 873.1M1426.73 873.1L1446.33 851.3M1532.48 806.1L1552.08 827.9M1532.48 827.9L1552.08 806.1M898.01 1165.4L917.61 1187.2M898.01 1187.2L917.61 1165.4M1003.75 1083.9L1023.35 1105.7M1003.75 1105.7L1023.35 1083.9M1109.5 1017.3L1129.1 1039.1M1109.5 1039.1L1129.1 1017.3M1215.24 957.5L1234.84 979.3M1215.24 979.3L1234.84 957.5M1320.99 906.6L1340.59 928.4M1320.99 928.4L1340.59 906.6M1426.73 859.3L1446.33 881.1M1426.73 881.1L1446.33 859.3M1532.48 811.9L1552.08 833.7M1532.48 833.7L1552.08 811.9M898.01 874.9L917.61 896.7M898.01 896.7L917.61 874.9M1003.75 842.1L1023.35 863.9M1003.75 863.9L1023.35 842.1M1109.5 811.1L1129.1 832.9M1109.5 832.9L1129.1 811.1M1215.24 780L1234.84 801.8M1215.24 801.8L1234.84 780M1320.99 751.5L1340.59 773.3M1320.99 773.3L1340.59 751.5M1426.73 723.6L1446.33 745.4M1426.73 745.4L1446.33 723.6M1532.48 695.7L1552.08 717.5M1532.48 717.5L1552.08 695.7M898.01 911L917.61 932.8M898.01 932.8L917.61 911M1003.75 876.1L1023.35 897.9M1003.75 897.9L1023.35 876.1M1109.5 842.1L1129.1 863.9M1109.5 863.9L1129.1 842.1M1215.24 809.7L1234.84 831.5M1215.24 831.5L1234.84 809.7M1320.99 779.5L1340.59 801.3M1320.99 801.3L1340.59 779.5M1426.73 750.2L1446.33 772M1426.73 772L1446.33 750.2M1532.48 720.9L1552.08 742.7M1532.48 742.7L1552.08 720.9M898.01 524.4L917.61 546.2M898.01 546.2L917.61 524.4M1003.75 499.1L1023.35 520.9M1003.75 520.9L1023.35 499.1M1109.5 474.8L1129.1 496.6M1109.5 496.6L1129.1 474.8M1215.24 451.8L1234.84 473.6M1215.24 473.6L1234.84 451.8M1320.99 428.8L1340.59 450.6M1320.99 450.6L1340.59 428.8M1426.73 404.9L1446.33 426.7M1426.73 426.7L1446.33 404.9M1532.48 382.9L1552.08 404.7M1532.48 404.7L1552.08 382.9M898.01 358.6L917.61 380.4M898.01 380.4L917.61 358.6M1003.75 334.5L1023.35 356.3M1003.75 356.3L1023.35 334.5M1109.5 312.2L1129.1 334M1109.5 334L1129.1 312.2M1215.24 289L1234.84 310.8M1215.24 310.8L1234.84 289M1320.99 265.4L1340.59 287.2M1320.99 287.2L1340.59 265.4M1426.73 245.5L1446.33 267.3M1426.73 267.3L1446.33 245.5M1532.48 223.6L1552.08 245.4M1532.48 245.4L1552.08 223.6M898.01 373.1L917.61 394.9M898.01 394.9L917.61 373.1M1003.75 350.6L1023.35 372.4M1003.75 372.4L1023.35 350.6M1109.5 327.2L1129.1 349M1109.5 349L1129.1 327.2M1215.24 303.9L1234.84 325.7M1215.24 325.7L1234.84 303.9M1320.99 281.9L1340.59 303.7M1320.99 303.7L1340.59 281.9M1426.73 261.4L1446.33 283.2M1426.73 283.2L1446.33 261.4M1532.48 239.6L1552.08 261.4M1532.48 261.4L1552.08 239.6M898.01 260.3L917.61 282.1M898.01 282.1L917.61 260.3M1003.75 241L1023.35 262.8M1003.75 262.8L1023.35 241M1109.5 221.9L1129.1 243.7M1109.5 243.7L1129.1 221.9M1215.24 202L1234.84 223.8M1215.24 223.8L1234.84 202M1320.99 182.1L1340.59 203.9M1320.99 203.9L1340.59 182.1M1426.73 162.2L1446.33 184M1426.73 184L1446.33 162.2M1532.48 141.7L1552.08 163.5M1532.48 163.5L1552.08 141.7M898.01 280.1L917.61 301.9M898.01 301.9L917.61 280.1M1003.75 259.4L1023.35 281.2M1003.75 281.2L1023.35 259.4M1109.5 237.6L1129.1 259.4M1109.5 259.4L1129.1 237.6M1215.24 216.6L1234.84 238.4M1215.24 238.4L1234.84 216.6M1320.99 194.9L1340.59 216.7M1320.99 216.7L1340.59 194.9M1426.73 172.3L1446.33 194.1M1426.73 194.1L1446.33 172.3M1532.48 150.5L1552.08 172.3M1532.48 172.3L1552.08 150.5M898.01 149.6L917.61 171.4M898.01 171.4L917.61 149.6M1003.75 127.7L1023.35 149.5M1003.75 149.5L1023.35 127.7M1109.5 105.2L1129.1 127M1109.5 127L1129.1 105.2M1215.24 82.9L1234.84 104.7M1215.24 104.7L1234.84 82.9M1320.99 60.3L1340.59 82.1M1320.99 82.1L1340.59 60.3M1426.73 38.2L1446.33 60M1426.73 60L1446.33 38.2M898.01 173.2L917.61 195M898.01 195L917.61 173.2M1003.75 151.9L1023.35 173.7M1003.75 173.7L1023.35 151.9M1109.5 130.7L1129.1 152.5M1109.5 152.5L1129.1 130.7M1215.24 108.2L1234.84 130M1215.24 130L1234.84 108.2M1320.99 86.1L1340.59 107.9M1320.99 107.9L1340.59 86.1M1426.73 64.3L1446.33 86.1M1426.73 86.1L1446.33 64.3M1532.48 42.2L1552.08 64M1532.48 64L1552.08 42.2M898.01 39.3L917.61 61.1M898.01 61.1L917.61 39.3M1003.75 17L1023.35 38.8M1003.75 38.8L1023.35 17" stroke="#4cc97e" stroke-width="1.7" fill="none"/>
<text transform="translate(183.21 317.81) scale(0.9797 1.0217)" font-family="'Liberation Sans', sans-serif" font-size="139" fill="#262626">12</text>
<text transform="translate(258.72 702.37) scale(1.0462 1.0304)" font-family="'Liberation Sans', sans-serif" font-size="139" fill="#262626">8</text>
<text transform="translate(260.46 1083.98) scale(0.9801 1.0511)" font-family="'Liberation Sans', sans-serif" font-size="139" fill="#262626">4</text>
<text transform="translate(260.42 1467.16) scale(0.9971 1.0354)" font-family="'Liberation Sans', sans-serif" font-size="139" fill="#262626">0</text>
<text transform="translate(340.20 1591.16) scale(0.9986 1.0385)" font-family="'Liberation Sans', sans-serif" font-size="139" fill="#262626">0</text>
<text transform="translate(718.94 1590.76) scale(1.0387 1.0385)" font-family="'Liberation Sans', sans-serif" font-size="139" fill="#262626">20</text>
<text transform="translate(1146.57 1590.76) scale(1.0089 1.0344)" font-family="'Liberation Sans', sans-serif" font-size="139" fill="#262626">40</text>
<text transform="translate(411.20 1766.72) scale(0.9966 0.9775)" font-family="'Liberation Serif', serif" font-size="156" fill="#262626">Applied field (mT)</text>
<text transform="translate(127.55 1404.98) rotate(-90) scale(0.9980 0.9833)" font-family="'Liberation Serif', serif" font-size="156" fill="#262626">SW frequency (GHz)</text>
<text transform="translate(1180.99 1176.20) scale(1.0034 0.9922)" font-family="'Liberation Serif', serif" font-size="116" fill="#000">RKKY</text>
<text transform="translate(1181.79 1309.68) scale(1.0008 0.9811)" font-family="'Liberation Serif', serif" font-size="116" fill="#000">coupled</text>
<text transform="translate(419.56 1044.60) scale(1.0358 1.0128)" font-family="'Liberation Serif', serif" font-size="121" font-style="italic" fill="#1c6699">B</text>
<text transform="translate(497.77 1106.00) scale(0.9139 1.0108)" font-family="'Liberation Serif', serif" font-size="98" fill="#1c6699">T1</text>
<text transform="translate(675.56 1044.60) scale(1.0329 1.0128)" font-family="'Liberation Serif', serif" font-size="121" font-style="italic" fill="#ff0000">B</text>
<text transform="translate(753.00 1106.02) scale(0.9981 1.0110)" font-family="'Liberation Serif', serif" font-size="98" fill="#ff0000">T2</text>
</svg>
</body></html>
